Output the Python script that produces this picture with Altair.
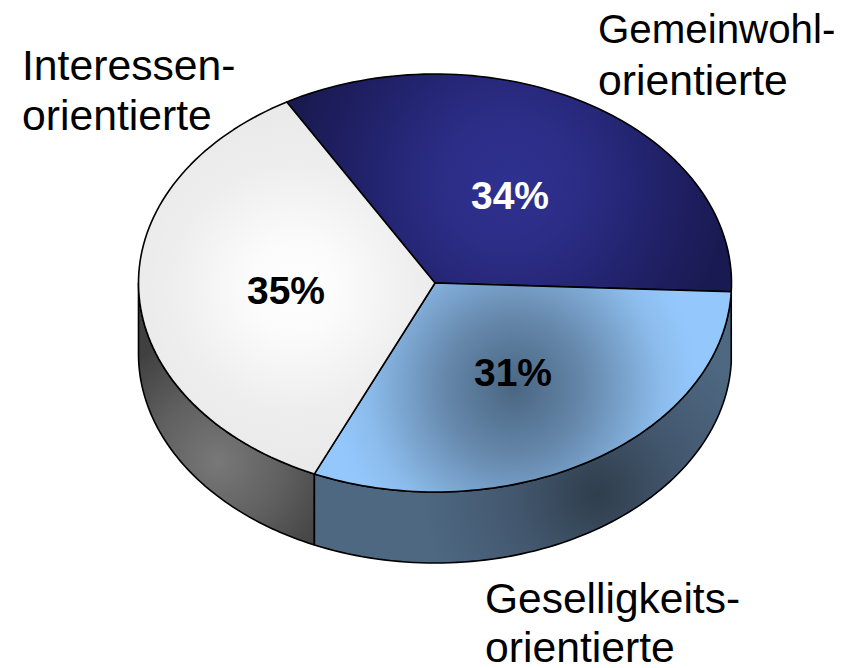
import numpy as np
import altair as alt

names = ["Gemeinwohl-orientierte", "Geselligkeits-orientierte", "Interessen-orientierte"]
shares = [34, 31, 35]
start_deg = -120.0

CX, CY, RX, RY, DEPTH = 427.0, 275.0, 296.5, 209.0, 71.0   # chart-space pie geometry


def rim(t0, t1, dy=0.0, n=80):
    ts = np.radians(np.linspace(t0, t1, n))
    return [[float(RX * np.cos(t)), float(RY * np.sin(t) + dy)] for t in ts]


def feature(ring):
    ring = ring + [ring[0]]
    return {"type": "Feature", "properties": {}, "geometry": {"type": "Polygon", "coordinates": [ring]}}


def grad(stops, cx=0.5, cy=0.5, r=0.5):
    return alt.RadialGradient(
        gradient="radial", x1=cx, y1=cy, r1=0, x2=cx, y2=cy, r2=r,
        stops=[alt.GradientStop(offset=o, color=c) for o, c in stops],
    )


edges = np.cumsum([0] + shares) * 3.6 + start_deg
a = {n: (edges[i], edges[i + 1]) for i, n in enumerate(names)}
blue, light, white = names

top_fills = {
    blue: grad([(0, "#2F3190"), (0.35, "#2A2C84"), (0.8, "#1E1E60"), (1, "#1A1A52")], 0.5, 0.5, 0.5),
    light: grad([(0, "#4A6682"), (0.32, "#6587AA"), (0.68, "#8CBCEC"), (0.85, "#94C8FD")], 0.48, 0.5, 0.52),
    white: grad([(0, "#FFFFFF"), (0.25, "#FBFBFB"), (0.65, "#EEEEEE"), (1, "#E9E9E9")], 0.52, 0.5, 0.5),
}


def shape(ring, fill):
    return alt.Chart(alt.Data(values=[feature(ring)])).mark_geoshape(
        fill=fill, stroke="#000000", strokeWidth=1.6, strokeJoin="round"
    ).project(type="identity", scale=1, translate=[CX, CY])


def side(t0, t1):
    return rim(t0, t1) + rim(t1, t0, DEPTH)


def wedge(t0, t1):
    return [[0.0, 0.0]] + rim(t0, t1)


layers = [
    shape(side(a[white][0], 180), grad([(0, "#787878"), (0.5, "#606060"), (1, "#404040")], 0.47, 0.68, 0.5)),
    shape(side(a[light][0], a[light][1]), grad([(0, "#303E4D"), (0.5, "#43586F"), (1, "#4E6882")], 0.68, 0.66, 0.42)),
    shape(wedge(*a[blue]), top_fills[blue]),
    shape(wedge(*a[light]), top_fills[light]),
    shape(wedge(*a[white]), top_fills[white]),
]

label_lines = [
    ("Gemeinwohl-", 590, 35, 40.3), ("orientierte", 590, 87, 42.7),
    ("Interessen-", 14, 72, 42.7), ("orientierte", 14, 122, 42.7),
    ("Geselligkeits-", 477, 605, 42.5), ("orientierte", 477, 654, 42.7),
]
for txt, x, y, size in label_lines:
    layers.append(
        alt.Chart(alt.Data(values=[{"t": txt}])).mark_text(
            align="left", baseline="alphabetic", font="Liberation Sans", fontSize=size, color="#000000"
        ).encode(x=alt.value(x), y=alt.value(y), text="t:N")
    )

pct_labels = [("34%", 502, 201, "#FFFFFF"), ("35%", 278, 296, "#000000"), ("31%", 505, 378, "#000000")]
for txt, x, y, col in pct_labels:
    layers.append(
        alt.Chart(alt.Data(values=[{"t": txt}])).mark_text(
            align="center", baseline="alphabetic", font="Liberation Sans", fontSize=39,
            fontWeight="bold", color=col
        ).encode(x=alt.value(x), y=alt.value(y), text="t:N")
    )

chart = alt.layer(*layers).properties(
    width=841, height=660, padding=0, autosize=alt.AutoSizeParams(type="none"),
    background="#FFFFFF",
).configure_view(stroke=None)

chart.save("out.html", embed_options={"renderer": "svg", "actions": False})
